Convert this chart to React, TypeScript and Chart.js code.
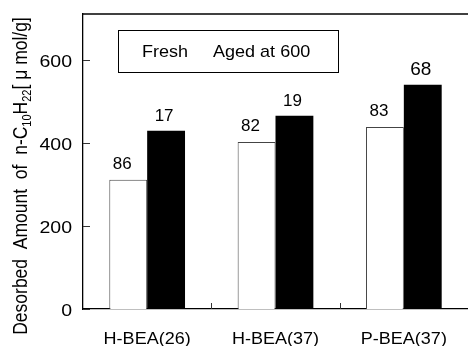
import React, { useEffect, useRef } from "react";
import { Chart, registerables } from "chart.js";

Chart.register(...registerables);

const categories = ["H-BEA(26)", "H-BEA(37)", "P-BEA(37)"];
const freshValues = [311, 402, 438];
const agedValues = [429, 465, 540];
const freshLabels = ["86", "82", "83"];
const agedLabels = ["17", "19", "68"];
const yTicks = [0, 200, 400, 600];
const legendNames = ["Fresh", "Aged at 600"];

const FONT = '"Liberation Sans", Arial, Helvetica, sans-serif';

function drawText(
  ctx: CanvasRenderingContext2D,
  s: string,
  x: number,
  y: number,
  size: number,
  sx = 1,
  align: CanvasTextAlign = "center"
) {
  ctx.save();
  ctx.translate(x, y);
  ctx.scale(sx, 1);
  ctx.font = `${size}px ${FONT}`;
  ctx.textAlign = align;
  ctx.textBaseline = "alphabetic";
  ctx.fillStyle = "#000";
  ctx.fillText(s, 0, 0);
  ctx.restore();
}

const decorations = {
  id: "decorations",
  afterDraw(chart: any) {
    const ctx: CanvasRenderingContext2D = chart.ctx;
    const { left, right, top, bottom } = chart.chartArea;
    const x = chart.scales.x;
    const y = chart.scales.y;

    ctx.save();
    // frame top line
    ctx.strokeStyle = "#000";
    ctx.lineWidth = 1.3;
    ctx.beginPath();
    ctx.moveTo(left, top);
    ctx.lineTo(right, top);
    ctx.stroke();

    // inward y ticks
    ctx.lineWidth = 1;
    ctx.strokeStyle = "#333";
    yTicks.forEach((v) => {
      const py = Math.round(y.getPixelForValue(v)) + 0.5;
      ctx.beginPath();
      ctx.moveTo(left, py);
      ctx.lineTo(left + 7, py);
      ctx.stroke();
      drawText(ctx, String(v), left - 11, py + 6, 16, 1.22, "right");
    });

    // inward x ticks between categories
    for (let i = 1; i < categories.length; i++) {
      const px = Math.round((x.getPixelForValue(i - 1) + x.getPixelForValue(i)) / 2) + 0.5;
      ctx.beginPath();
      ctx.moveTo(px, bottom);
      ctx.lineTo(px, bottom - 6);
      ctx.stroke();
    }

    // category labels
    categories.forEach((c, i) => {
      drawText(ctx, c, x.getPixelForValue(i), 344, 17, 1.06);
    });

    // labels above bars
    const agedSizes = [17, 17, 19];
    const m0 = chart.getDatasetMeta(0);
    const m1 = chart.getDatasetMeta(1);
    freshLabels.forEach((t, i) => {
      const el = m0.data[i];
      drawText(ctx, t, el.x - 6, el.y - 11, 17, 1.0);
    });
    agedLabels.forEach((t, i) => {
      const el = m1.data[i];
      drawText(ctx, t, el.x - 2, el.y - 10, agedSizes[i], 1.0);
    });

    // legend box
    ctx.strokeStyle = "#000";
    ctx.lineWidth = 1;
    ctx.strokeRect(118.5, 30.5, 220, 42);
    drawText(ctx, legendNames[0], 142, 57, 17, 1.06, "left");
    drawText(ctx, legendNames[1], 213, 57, 17, 1.06, "left");

    // rotated axis title with subscripts
    const segs: [string, number, number][] = [
      ["Desorbed  Amount  of  n-C", 17.5, 0],
      ["10", 11, 3],
      ["H", 17.5, 0],
      ["22", 11, 3],
      ["[ \u03bc mol/g]", 17.5, 0],
    ];
    ctx.save();
    ctx.translate(27, 176);
    ctx.rotate(-Math.PI / 2);
    ctx.scale(1, 1.2);
    let total = 0;
    const widths = segs.map(([s, sz]) => {
      ctx.font = `${sz}px ${FONT}`;
      const w = ctx.measureText(s).width;
      total += w;
      return w;
    });
    let cx = -total / 2;
    ctx.fillStyle = "#000";
    ctx.textAlign = "left";
    ctx.textBaseline = "alphabetic";
    segs.forEach(([s, sz, dy], i) => {
      ctx.font = `${sz}px ${FONT}`;
      ctx.fillText(s, cx, dy);
      cx += widths[i];
    });
    ctx.restore();

    ctx.restore();
  },
};

export default function App() {
  const ref = useRef<HTMLCanvasElement | null>(null);

  useEffect(() => {
    document.body.style.margin = "0";
    if (!ref.current) return;
    const chart = new Chart(ref.current, {
      type: "bar",
      data: {
        labels: categories,
        datasets: [
          {
            label: legendNames[0],
            data: freshValues,
            backgroundColor: "#ffffff",
            borderColor: "#444444",
            borderWidth: 1,
            categoryPercentage: 0.59,
            barPercentage: 1.0,
          },
          {
            label: legendNames[1],
            data: agedValues,
            backgroundColor: "#000000",
            borderColor: "#000000",
            borderWidth: 0,
            categoryPercentage: 0.59,
            barPercentage: 1.0,
          },
        ],
      },
      options: {
        animation: false,
        responsive: true,
        maintainAspectRatio: false,
        layout: { padding: { top: 14, right: 0, left: 0, bottom: 0 } },
        plugins: {
          legend: { display: false },
          tooltip: { enabled: false },
          title: { display: false },
        },
        scales: {
          x: {
            grid: { display: false },
            ticks: { display: false },
            border: { display: true, color: "#000", width: 1.3 },
            afterFit: (s: any) => {
              s.height = 37;
            },
          },
          y: {
            min: 0,
            max: 710,
            grid: { display: false },
            ticks: { display: false, stepSize: 200 },
            border: { display: true, color: "#000", width: 1.3 },
            afterFit: (s: any) => {
              s.width = 83;
            },
          },
        },
      },
      plugins: [decorations],
    });
    return () => chart.destroy();
  }, []);

  return (
    <div style={{ width: 468, height: 346, position: "relative" }}>
      <canvas ref={ref} />
    </div>
  );
}
